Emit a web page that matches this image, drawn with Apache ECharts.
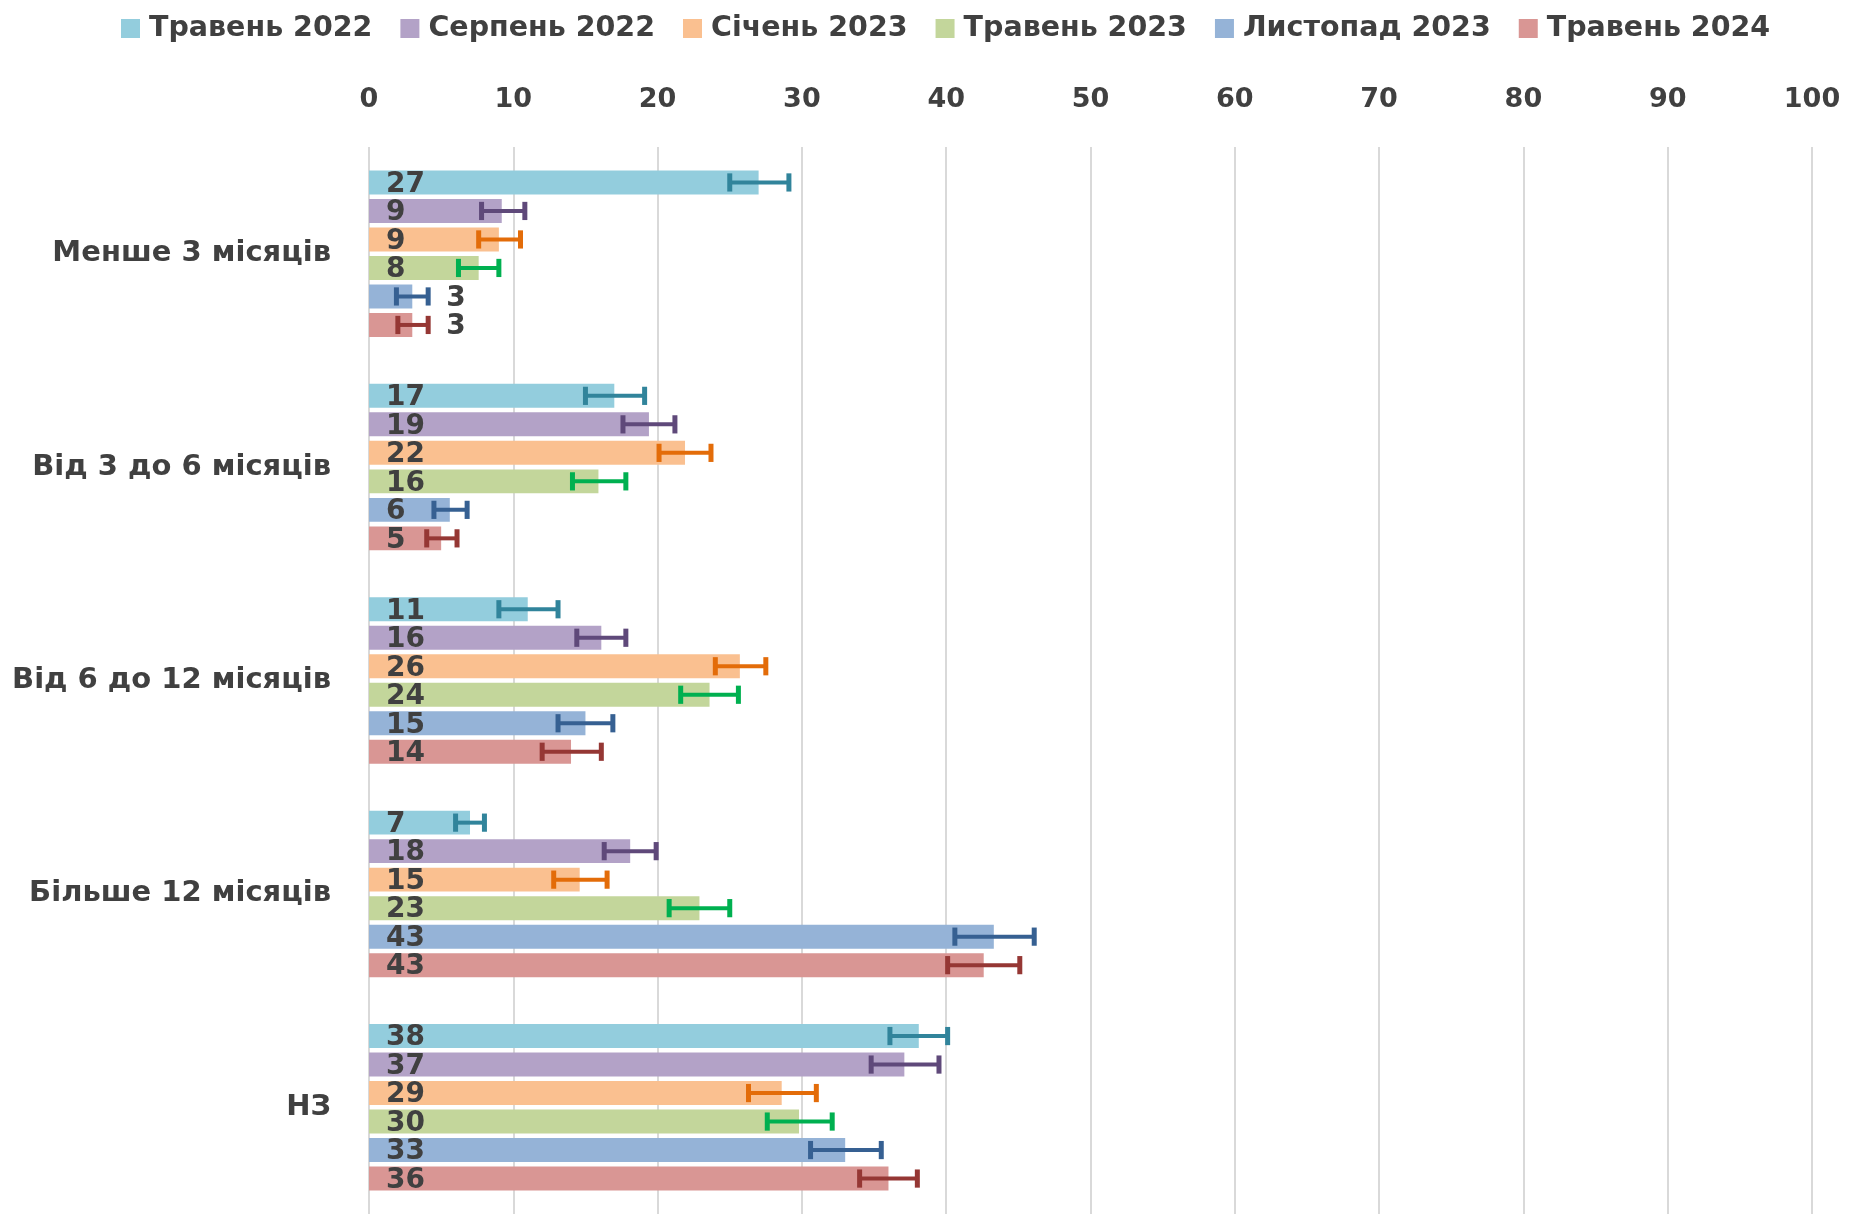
<!DOCTYPE html>
<html><head><meta charset="utf-8">
<script src="https://cdn.jsdelivr.net/npm/echarts@6/dist/echarts.min.js"></script>
<style>html,body{margin:0;padding:0;background:#fff}#c{width:1850px;height:1214px}</style>
</head><body><div id="c"></div>
<script>
const categories = ['Менше 3 місяців', 'Від 3 до 6 місяців', 'Від 6 до 12 місяців', 'Більше 12 місяців', 'НЗ'];
const seriesNames = ['Травень 2022', 'Серпень 2022', 'Січень 2023', 'Травень 2023', 'Листопад 2023', 'Травень 2024'];
const xTicks = [0, 10, 20, 30, 40, 50, 60, 70, 80, 90, 100];

// bar values (%)
const may2022 = [27.0, 17.0, 11.0, 7.0, 38.1];
const aug2022 = [9.2, 19.4, 16.1, 18.1, 37.1];
const jan2023 = [9.0, 21.9, 25.7, 14.6, 28.6];
const may2023 = [7.6, 15.9, 23.6, 22.9, 29.8];
const nov2023 = [3.0, 5.6, 15.0, 43.3, 33.0];
const may2024 = [3.0, 5.0, 14.0, 42.6, 36.0];

// error bars [low, high]
const may2022Err = [[25.0, 29.1], [15.0, 19.1], [9.0, 13.1], [6.0, 8.0], [36.1, 40.1]];
const aug2022Err = [[7.8, 10.8], [17.6, 21.2], [14.4, 17.8], [16.3, 19.9], [34.8, 39.5]];
const jan2023Err = [[7.6, 10.5], [20.1, 23.7], [24.0, 27.5], [12.8, 16.5], [26.3, 31.0]];
const may2023Err = [[6.2, 9.0], [14.1, 17.8], [21.6, 25.6], [20.8, 25.0], [27.6, 32.1]];
const nov2023Err = [[1.9, 4.1], [4.5, 6.8], [13.1, 16.9], [40.6, 46.1], [30.6, 35.5]];
const may2024Err = [[2.0, 4.1], [4.0, 6.1], [12.0, 16.1], [40.1, 45.1], [34.0, 38.0]];

const barValues = [may2022, aug2022, jan2023, may2023, nov2023, may2024];
const errValues = [may2022Err, aug2022Err, jan2023Err, may2023Err, nov2023Err, may2024Err];
const barColors = ['#93CDDD', '#B3A2C7', '#FAC090', '#C3D69B', '#95B3D7', '#D99694'];
const errColors = ['#31849B', '#5F497A', '#E36C09', '#00B050', '#366092', '#953734'];

const FONT = 'DejaVu Sans';
const TXT = '#404040';
const CAT_GAP = 0.22, BAR_GAP = 0.19, N = seriesNames.length;

const series = [];
barValues.forEach((vals, k) => {
  series.push({
    type: 'bar', name: seriesNames[k],
    barCategoryGap: (CAT_GAP * 100) + '%', barGap: (BAR_GAP * 100) + '%',
    itemStyle: { color: barColors[k] },
    data: vals.map(v => {
      const item = { value: v };
      if (v < 4) item.label = { position: 'right', distance: 34 };
      return item;
    }),
    label: {
      show: true, position: 'insideLeft', distance: 17, offset: [0, 2],
      formatter: p => String(Math.round(p.value)),
      fontFamily: FONT, fontWeight: 'bold', fontSize: 28, color: TXT
    },
    z: 2
  });
});
errValues.forEach((errs, k) => {
  series.push({
    type: 'custom', name: seriesNames[k],
    encode: { y: 0, x: [1, 2] },
    data: errs.map((e, i) => [i, e[0], e[1]]),
    z: 5,
    renderItem: (params, api) => {
      const cat = api.value(0);
      const pLo = api.coord([api.value(1), cat]);
      const pHi = api.coord([api.value(2), cat]);
      const band = api.size([0, 1])[1];
      const bw = band * (1 - CAT_GAP) / (N + (N - 1) * BAR_GAP);
      const total = N * bw + (N - 1) * bw * BAR_GAP;
      const y = pLo[1] - total / 2 + k * bw * (1 + BAR_GAP) + bw / 2;
      const cap = bw * 0.38;
      const st = { stroke: errColors[k], lineWidth: 4 };
      const stCap = { stroke: errColors[k], lineWidth: 5 };
      return {
        type: 'group', children: [
          { type: 'line', shape: { x1: pLo[0], y1: y, x2: pHi[0], y2: y }, style: st },
          { type: 'line', shape: { x1: pLo[0], y1: y - cap, x2: pLo[0], y2: y + cap }, style: stCap },
          { type: 'line', shape: { x1: pHi[0], y1: y - cap, x2: pHi[0], y2: y + cap }, style: stCap }
        ]
      };
    }
  });
});

const chart = echarts.init(document.getElementById('c'), null, { renderer: 'canvas' });
chart.setOption({
  animation: false,
  backgroundColor: '#ffffff',
  legend: {
    data: seriesNames, top: 9, left: 116,
    icon: 'rect', itemWidth: 19, itemHeight: 19, itemGap: 28,
    textStyle: { fontFamily: FONT, fontWeight: 'bold', fontSize: 28.5, color: TXT, padding: [0, 0, 0, 4] }
  },
  grid: { left: 369, right: 38, top: 147, height: 1078, containLabel: false },
  xAxis: {
    type: 'value', position: 'top', min: xTicks[0], max: xTicks[xTicks.length - 1], interval: 10,
    axisLine: { show: false }, axisTick: { show: false },
    axisLabel: { fontFamily: FONT, fontWeight: 'bold', fontSize: 27, color: TXT, margin: 34 },
    splitLine: { show: true, lineStyle: { color: '#D9D9D9', width: 2 } }
  },
  yAxis: {
    type: 'category', inverse: true, data: categories,
    axisLine: { show: false }, axisTick: { show: false },
    axisLabel: { fontFamily: FONT, fontWeight: 'bold', fontSize: 29, color: TXT, margin: 38, padding: [5, 0, 0, 0] }
  },
  series: series
});
</script></body></html>
